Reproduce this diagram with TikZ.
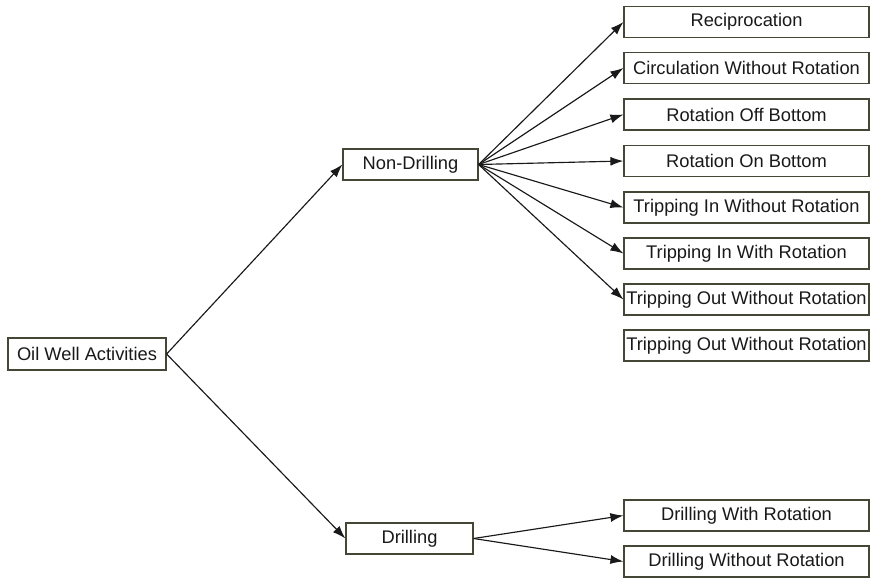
\documentclass[tikz,border=0pt]{standalone}
\usepackage{fontspec}
\setmainfont{Liberation Sans}
\usetikzlibrary{arrows.meta}
\definecolor{boxline}{RGB}{70,70,55}
\definecolor{inktext}{RGB}{25,25,25}
\tikzset{
  box/.style={draw=boxline, line width=1.2pt, fill=white, inner sep=0pt,
    text=inktext, font=\fontsize{18.3}{22}\selectfont, anchor=center},
  leafbox/.style={box, minimum width=245pt, minimum height=31pt},
  link/.style={draw=black!90, line width=1.15pt, -{Latex[length=13pt,width=9pt]}}
}
\begin{document}
\begin{tikzpicture}[x=1pt,y=-1pt]
\useasboundingbox (0,0) rectangle (870,578);
% root and the two branches
\node[box, minimum width=158pt, minimum height=32pt] (root) at (87,354) {Oil Well Activities};
\node[box, minimum width=135pt, minimum height=31pt] (nd) at (410.5,164.5) {Non-Drilling};
\node[box, minimum width=127pt, minimum height=31pt] (dr) at (409.5,538.5) {Drilling};
% non-drilling activities
\node[leafbox] (l1) at (746.5,22) {Reciprocation};
\node[leafbox] (l2) at (746.5,68) {Circulation Without Rotation};
\node[leafbox] (l3) at (746.5,114.5) {Rotation Off Bottom};
\node[leafbox] (l4) at (746.5,161) {Rotation On Bottom};
\node[leafbox] (l5) at (746.5,207.5) {Tripping In Without Rotation};
\node[leafbox] (l6) at (746.5,253.5) {Tripping In With Rotation};
\node[leafbox] (l7) at (746.5,299.5) {Tripping Out Without Rotation};
\node[leafbox] (l8) at (746.5,345.5) {Tripping Out Without Rotation};
% drilling activities
\node[leafbox] (d1) at (746.5,515.5) {Drilling With Rotation};
\node[leafbox] (d2) at (746.5,561.5) {Drilling Without Rotation};
% connectors
\draw[link] (root.east) -- (nd.west);
\draw[link] (root.east) -- (dr.west);
\foreach \n in {l1,l2,l3,l4,l5,l6,l7}
  \draw[link] (nd.east) -- (\n.west);
\foreach \n in {d1,d2}
  \draw[link] (dr.east) -- (\n.west);
\end{tikzpicture}
\end{document}
